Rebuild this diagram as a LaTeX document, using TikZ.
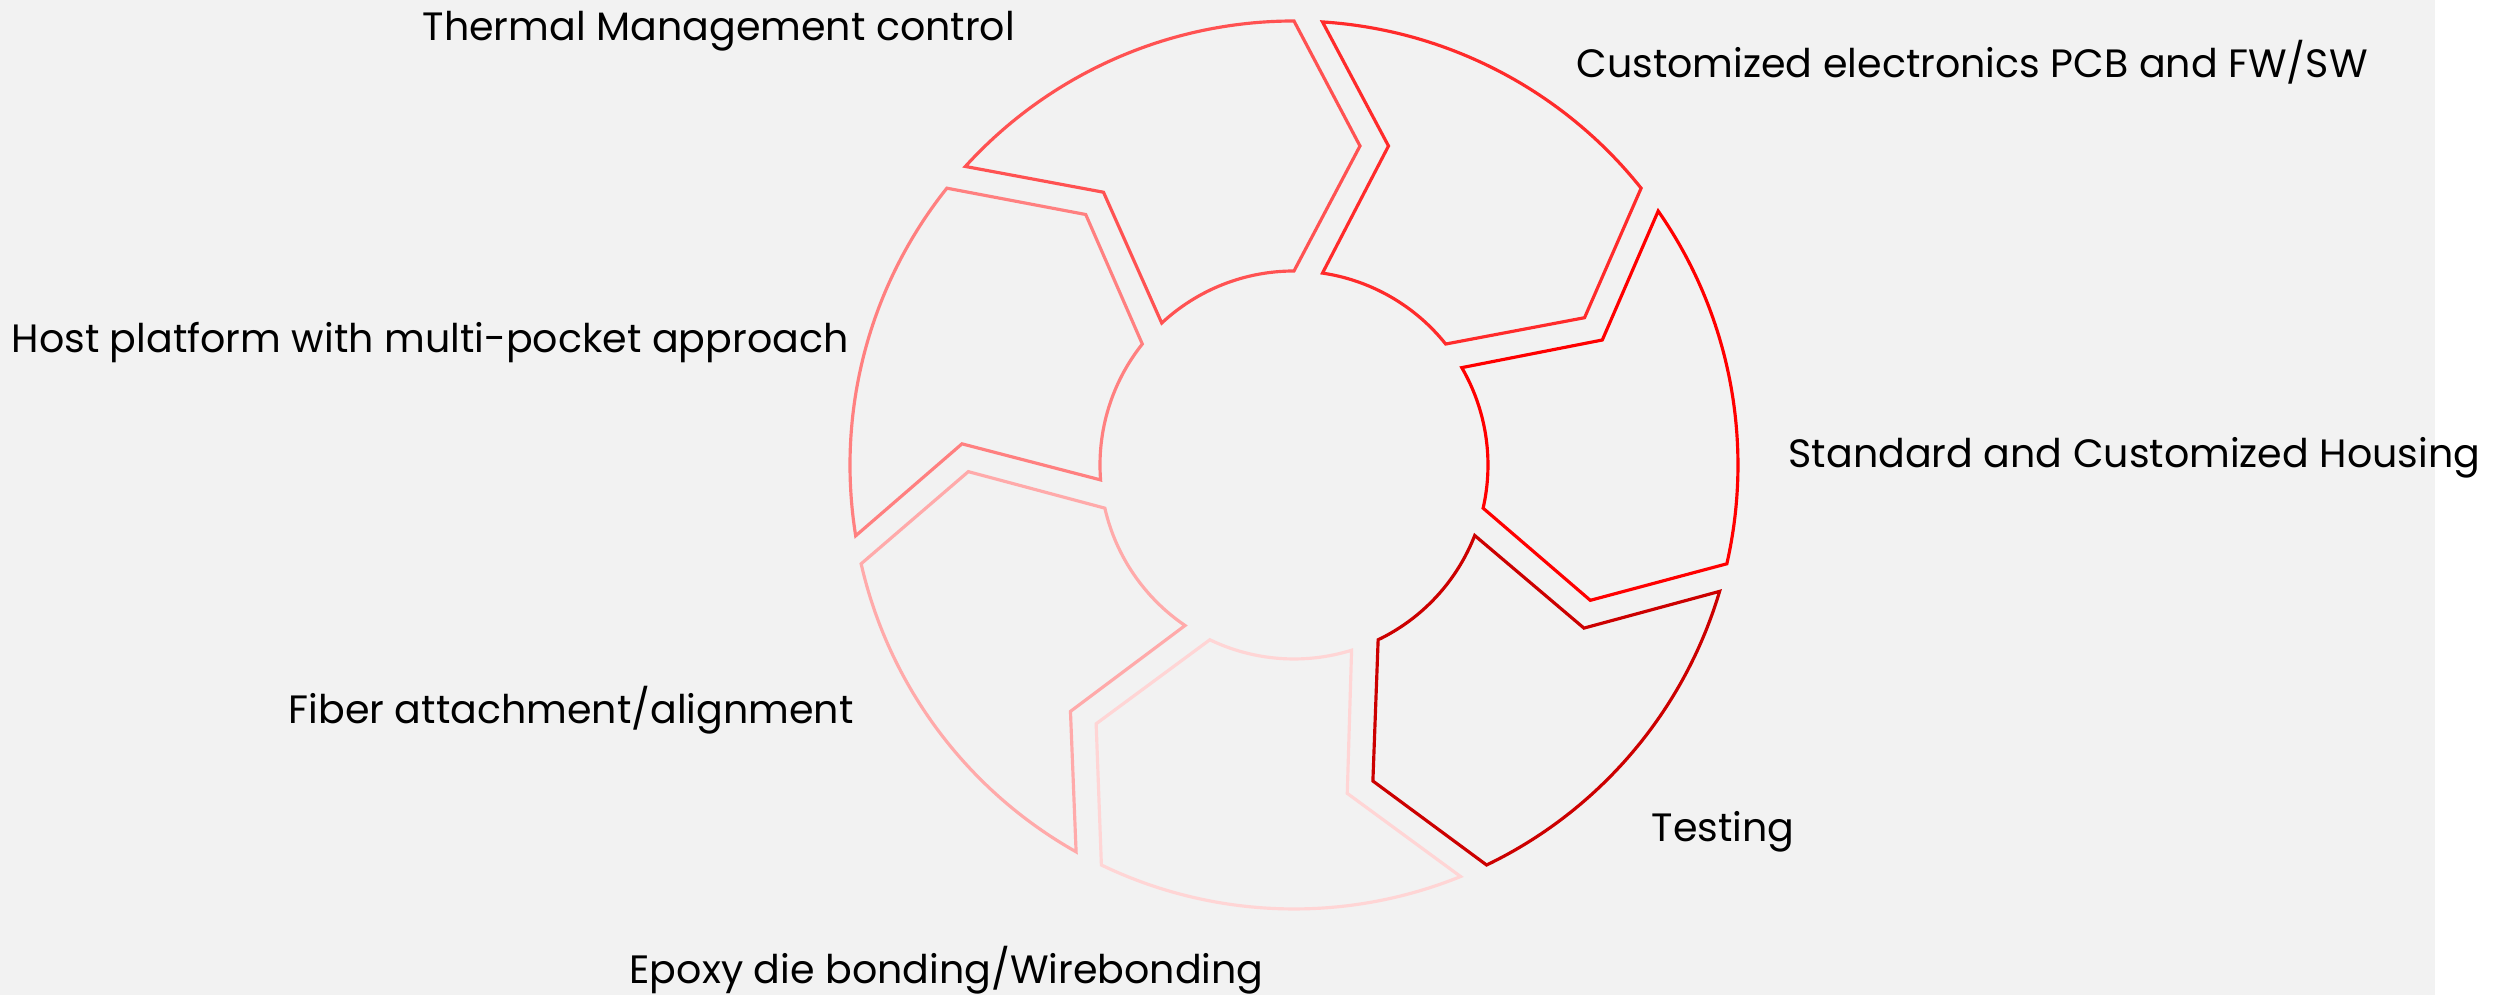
\documentclass[tikz,border=0pt]{standalone}
\usepackage{fontspec}
\setmainfont{Poppins}
\usetikzlibrary{calc}
\definecolor{bggray}{HTML}{F2F2F2}
\definecolor{epoxycol}{HTML}{FFD5D5}
\definecolor{fibercol}{HTML}{FFAAAA}
\definecolor{hostcol}{HTML}{FF8080}
\definecolor{thermalcol}{HTML}{FF5252}
\definecolor{pcbcol}{HTML}{FF2B2B}
\definecolor{housingcol}{HTML}{FF0000}
\definecolor{testcol}{HTML}{CC0000}

\begin{document}
\begin{tikzpicture}[x=0.01cm,y=0.01cm,
 seg/.style={draw=#1,line width=0.9pt,line join=miter},
 lbl/.style={anchor=base west,inner sep=0pt,font=\fontsize{11.25}{14}\selectfont},
 ]
 \def\Ro{444}
 \def\Ri{194}
 \def\gap{28.5}
 \def\tip{66}
 \def\rmid{319}
 \useasboundingbox (-1294,-530) rectangle (1202,465);
 \fill[white] (-1294,-530) rectangle (1202,465);
 \fill[bggray] (-1294,-530) rectangle (1141,465);
 % one arrow segment per step, tip edge on the radius at \a
 \foreach \a/\c in {90/thermalcol,38.57/pcbcol,-12.86/housingcol,-64.29/testcol,%
 -115.71/epoxycol,-167.14/fibercol,141.43/hostcol}
 {\pgfmathsetmacro\b{\a+360/7}
  \pgfmathsetmacro\bo{\b-asin(\gap/\Ro)}
  \pgfmathsetmacro\bi{\b-asin(\gap/\Ri)}
  \draw[seg=\c] (\bo:\Ro) arc[start angle=\bo,end angle=\a,radius=\Ro]
   -- ($(\a:\rmid)+(\a-90:\tip)$) -- (\a:\Ri)
   arc[start angle=\a,end angle=\bi,radius=\Ri]
   -- ($(\b:\rmid)+(\b-90:\tip+\gap)$) -- cycle;
 }
 \node[lbl] (thermal) at (-872,424) {Thermal Management control};
 \node[lbl] (pcb) at (282,387) {Customized electronics PCB and FW/SW};
 \node[lbl] (housing) at (494,-3) {Standard and Customized Housing};
 \node[lbl] (testing) at (357,-377) {Testing};
 \node[lbl] (epoxy) at (-665,-519) {Epoxy die bonding/Wirebonding};
 \node[lbl] (fiber) at (-1006,-259) {Fiber attachment/alignment};
 \node[lbl] (host) at (-1283,112) {Host platform with multi-pocket approach};
\end{tikzpicture}
\end{document}
